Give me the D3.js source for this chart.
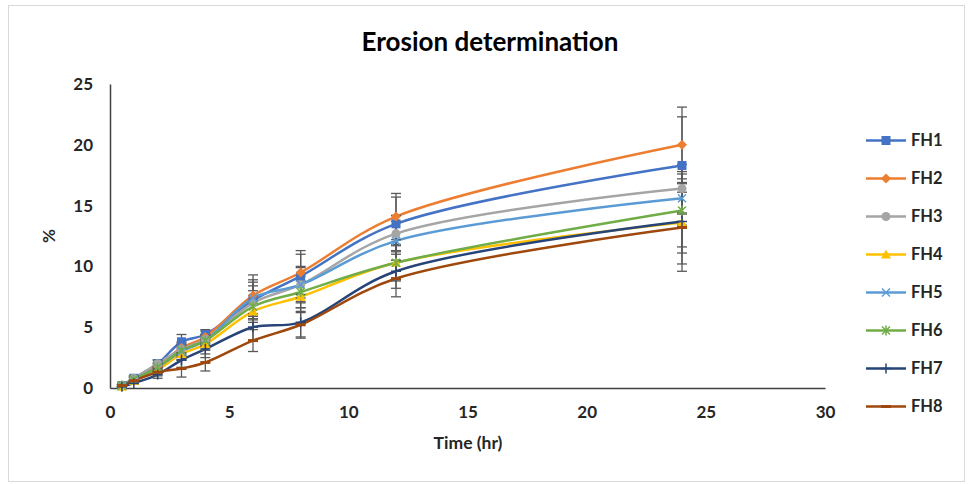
<!DOCTYPE html>
<html>
<head>
<meta charset="utf-8">
<script src="https://cdn.jsdelivr.net/npm/d3@7"></script>
<style>
  html, body { margin: 0; padding: 0; background: #fff; }
  svg { display: block; font-family: Lato, "Open Sans", sans-serif; }
</style>
</head>
<body>
<svg id="chart" width="968" height="484"></svg>
<script>
const time = [0.5, 1, 2, 3, 4, 6, 8, 12, 24];
const seriesNames = ["FH1", "FH2", "FH3", "FH4", "FH5", "FH6", "FH7", "FH8"];
const FH1 = [0.2, 0.8, 2.0, 3.8, 4.4, 7.2, 9.2, 13.5, 18.3];
const FH2 = [0.2, 0.7, 1.8, 3.3, 4.2, 7.6, 9.5, 14.1, 20.0];
const FH3 = [0.2, 0.8, 2.0, 3.2, 4.0, 7.0, 8.5, 12.7, 16.4];
const FH4 = [0.1, 0.6, 1.5, 2.8, 3.6, 6.3, 7.5, 10.3, 13.6];
const FH5 = [0.2, 0.7, 1.7, 3.0, 3.9, 7.4, 8.5, 12.1, 15.6];
const FH6 = [0.2, 0.7, 1.7, 3.1, 3.9, 6.7, 7.9, 10.3, 14.6];
const FH7 = [0.1, 0.4, 1.1, 2.3, 3.2, 5.0, 5.4, 9.6, 13.7];
const FH8 = [0.2, 0.6, 1.3, 1.6, 2.1, 3.9, 5.2, 9.0, 13.2];
const errFH1 = [0.1, 0.2, 0.3, 0.6, 0.4, 1.5, 1.8, 2.2, 4.0];
const errFH2 = [0.1, 0.2, 0.3, 0.5, 0.5, 1.7, 1.8, 1.9, 3.1];
const errFH3 = [0.1, 0.2, 0.3, 0.5, 0.4, 1.4, 1.5, 1.5, 2.0];
const errFH4 = [0.1, 0.1, 0.3, 0.5, 0.5, 1.3, 1.3, 1.4, 2.5];
const errFH5 = [0.1, 0.2, 0.3, 0.5, 0.4, 1.5, 1.4, 1.6, 2.2];
const errFH6 = [0.1, 0.2, 0.3, 0.5, 0.5, 1.3, 1.3, 1.5, 3.0];
const errFH7 = [0.1, 0.1, 0.3, 0.6, 0.7, 1.1, 1.2, 1.4, 3.5];
const errFH8 = [0.1, 0.2, 0.3, 0.7, 0.7, 0.9, 1.1, 1.5, 3.6];
const xTicks = [0, 5, 10, 15, 20, 25, 30];
const yTicks = [0, 5, 10, 15, 20, 25];
const colors = ["#4472C4", "#ED7D31", "#A5A5A5", "#FFC000", "#5B9BD5", "#70AD47", "#264478", "#9E480E"];
const markers = ["square", "diamond", "circle", "triangle", "x", "star", "plus", "dash"];

const values = [FH1, FH2, FH3, FH4, FH5, FH6, FH7, FH8];
const errs = [errFH1, errFH2, errFH3, errFH4, errFH5, errFH6, errFH7, errFH8];
const series = seriesNames.map((name, i) => ({
  name, color: colors[i], marker: markers[i],
  points: time.map((t, j) => ({ t, v: values[i][j], e: errs[i][j] }))
}));

const svg = d3.select("#chart");
const plot = { left: 110, right: 825, top: 84, bottom: 388 };
const x = d3.scaleLinear().domain([0, 30]).range([plot.left, plot.right]);
const y = d3.scaleLinear().domain([0, 25]).range([plot.bottom, plot.top]);

// outer border
svg.append("rect").attr("x", 8.5).attr("y", 5.5).attr("width", 956).attr("height", 476)
  .attr("fill", "none").attr("stroke", "#d9d9d9").attr("stroke-width", 1);

// title
svg.append("text").attr("x", 490).attr("y", 51).attr("text-anchor", "middle")
  .attr("font-size", 26).attr("font-weight", "bold").attr("fill", "#000")
  .text("Erosion determination");

// axes
const xAxis = svg.append("g").attr("transform", `translate(0,${plot.bottom})`)
  .call(d3.axisBottom(x).tickValues(xTicks).tickSize(0).tickPadding(18));
const yAxis = svg.append("g").attr("transform", `translate(${plot.left},0)`)
  .call(d3.axisLeft(y).tickValues(yTicks).tickSize(0).tickPadding(17));
[xAxis, yAxis].forEach(g => {
  g.select(".domain").attr("stroke", "#404040").attr("stroke-width", 1.5);
  g.selectAll("text").attr("font-size", 17).attr("font-weight", "bold")
    .attr("fill", "#262626").attr("font-family", "Lato, sans-serif");
});
xAxis.selectAll("text").attr("dy", "0.68em");

svg.append("text").attr("x", 468).attr("y", 449).attr("text-anchor", "middle")
  .attr("font-size", 17.5).attr("font-weight", "bold").attr("fill", "#262626").text("Time (hr)");
svg.append("text").attr("transform", "translate(55,236) rotate(-90)").attr("text-anchor", "middle")
  .attr("font-size", 17).attr("font-weight", "bold").attr("fill", "#262626").text("%");

// lines
const line = d3.line().x(d => x(d.t)).y(d => y(d.v)).curve(d3.curveCatmullRom.alpha(0.5));
const gLines = svg.append("g");
series.forEach(s => {
  gLines.append("path").datum(s.points).attr("d", line)
    .attr("fill", "none").attr("stroke", s.color).attr("stroke-width", 2.5);
});

// error bars
const gErr = svg.append("g").attr("stroke", "#595959").attr("stroke-width", 1.3);
series.forEach(s => {
  s.points.forEach(p => {
    const cx = x(p.t), y1 = y(p.v + p.e), y2 = y(p.v - p.e);
    gErr.append("line").attr("x1", cx).attr("x2", cx).attr("y1", y1).attr("y2", y2);
    gErr.append("line").attr("x1", cx - 5).attr("x2", cx + 5).attr("y1", y1).attr("y2", y1);
    gErr.append("line").attr("x1", cx - 5).attr("x2", cx + 5).attr("y1", y2).attr("y2", y2);
  });
});

function drawMarker(g, type, cx, cy, color) {
  switch (type) {
    case "square":
      g.append("rect").attr("x", cx - 4.5).attr("y", cy - 4.5).attr("width", 9).attr("height", 9).attr("fill", color);
      break;
    case "diamond":
      g.append("path").attr("d", `M${cx},${cy-5}L${cx+5},${cy}L${cx},${cy+5}L${cx-5},${cy}Z`).attr("fill", color);
      break;
    case "circle":
      g.append("circle").attr("cx", cx).attr("cy", cy).attr("r", 4.5).attr("fill", color);
      break;
    case "triangle":
      g.append("path").attr("d", `M${cx},${cy-5}L${cx+5},${cy+4}L${cx-5},${cy+4}Z`).attr("fill", color);
      break;
    case "x":
      g.append("path").attr("d", `M${cx-4},${cy-4}L${cx+4},${cy+4}M${cx-4},${cy+4}L${cx+4},${cy-4}`)
        .attr("stroke", color).attr("stroke-width", 1.5).attr("fill", "none");
      break;
    case "star":
      g.append("path").attr("d", `M${cx-4},${cy-4}L${cx+4},${cy+4}M${cx-4},${cy+4}L${cx+4},${cy-4}M${cx},${cy-5}L${cx},${cy+5}`)
        .attr("stroke", color).attr("stroke-width", 1.5).attr("fill", "none");
      break;
    case "plus":
      g.append("path").attr("d", `M${cx-5},${cy}L${cx+5},${cy}M${cx},${cy-5}L${cx},${cy+5}`)
        .attr("stroke", color).attr("stroke-width", 1.5).attr("fill", "none");
      break;
    case "dash":
      g.append("path").attr("d", `M${cx-5},${cy}L${cx+5},${cy}`)
        .attr("stroke", color).attr("stroke-width", 3).attr("fill", "none");
      break;
  }
}

const gMarks = svg.append("g");
series.forEach(s => {
  s.points.forEach(p => drawMarker(gMarks, s.marker, x(p.t), y(p.v), s.color));
});

// legend
const legend = svg.append("g");
series.forEach((s, i) => {
  const ly = 140.5 + i * 38;
  legend.append("line").attr("x1", 866).attr("x2", 906).attr("y1", ly).attr("y2", ly)
    .attr("stroke", s.color).attr("stroke-width", 2.5);
  drawMarker(legend, s.marker, 886, ly, s.color);
  legend.append("text").attr("x", 911).attr("y", ly).attr("dy", "0.36em")
    .attr("font-size", 16.5).attr("font-weight", "bold").attr("fill", "#262626").text(s.name);
});
</script>
</body>
</html>
